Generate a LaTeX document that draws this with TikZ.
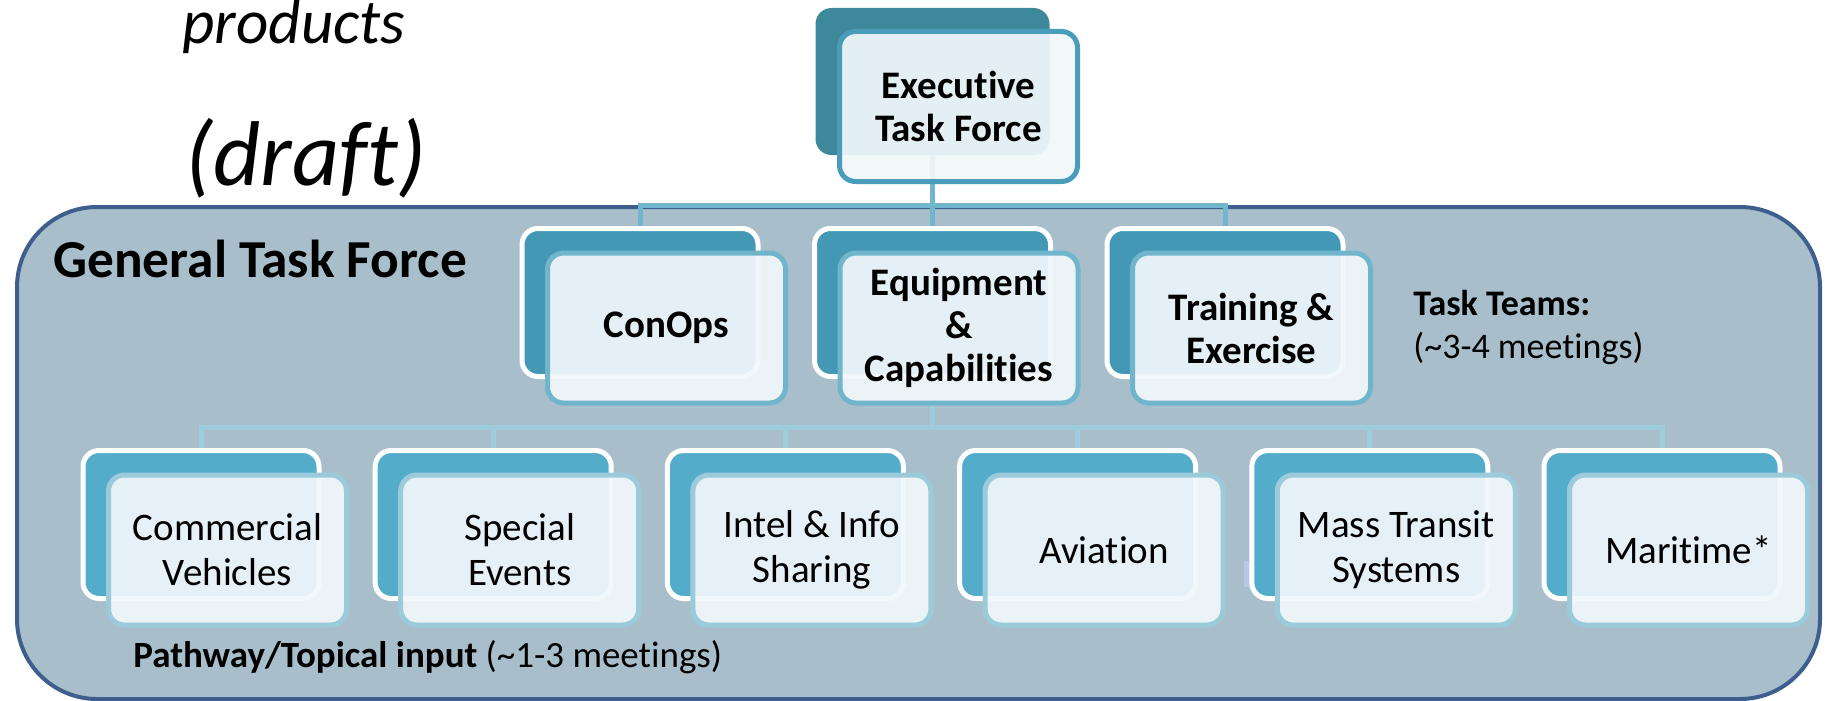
\documentclass[tikz,border=0pt]{standalone}
\usepackage{fontspec}
\setmainfont[Ligatures=NoCommon]{Carlito}
\usepackage{tikz}

\definecolor{gtfill}{HTML}{A8BFCB}
\definecolor{gtline}{HTML}{3E5F8D}
\definecolor{execback}{HTML}{3D889B}
\definecolor{midback}{HTML}{4399B5}
\definecolor{lowback}{HTML}{52ACCA}
\definecolor{execline}{HTML}{4A9DBA}
\definecolor{midline}{HTML}{70B5CC}
\definecolor{lowline}{HTML}{9BCBDB}
\definecolor{topconn}{HTML}{72B6CD}
\definecolor{lowconn}{HTML}{9DCCDC}
\definecolor{frontfill}{HTML}{F1F7FA}
\definecolor{stray}{HTML}{B8CAE2}

\begin{document}
\begin{tikzpicture}[x=0.5pt, y=-0.5pt,
                        backbox/.style={rectangle, rounded corners=8pt, minimum width=118pt, minimum height=74pt, draw=white, line width=2.5pt},
                        frontbox/.style={rectangle, rounded corners=8pt, minimum width=119pt, minimum height=75pt, line width=2.5pt, fill=frontfill, fill opacity=0.93, text opacity=1, align=center},
                        upper/.style={font=\bfseries\fontsize{19.5}{21.5}\selectfont},
                        lower/.style={font=\fontsize{19.5}{22.5}\selectfont},
                        topline/.style={draw=topconn, line width=2.5pt},
                        lowlink/.style={draw=lowconn, line width=2.5pt}]
                        \useasboundingbox (0,0) rectangle (1825,701);

                        % general task force frame
                        \draw[draw=gtline, fill=gtfill, line width=2pt, rounded corners=40pt] (17,207) rectangle (1820,699);
                        \fill[stray] (1244,561) rectangle (1253,587);

                        \node[fill=execback, rounded corners=8pt, minimum width=117pt, minimum height=73.5pt] (1b) at (932.5,81.5) {};
                        \node[fill=midback] (2b) at (640,302.5) [backbox] {};
                        \node[fill=midback] (3b) at (932.5,302.5) [backbox] {};
                        \node[fill=midback] (4b) at (1225,302.5) [backbox] {};

                        \node[fill=lowback] (5b) at (201,524.5) [backbox] {};
                        \node[fill=lowback] (6b) at (493.2,524.5) [backbox] {};
                        \node[fill=lowback] (7b) at (785.4,524.5) [backbox] {};
                        \node[fill=lowback] (8b) at (1077.6,524.5) [backbox] {};
                        \node[fill=lowback] (9b) at (1369.8,524.5) [backbox] {};
                        \node[fill=lowback] (10b) at (1662,524.5) [backbox] {};

                        \coordinate (h1) at (932.5,205);
                        \coordinate (h2) at (932.5,427);

                        \path	[topline]	(1b.south)	edge	(h1)
                        (h1)	edge	(3b.north);
                        \draw	[topline]	(2b.north) |- (h1) -| (4b.north);

                        \path	[lowlink]	(3b.south)	edge	(h2)
                        (6b.north)	edge	(6b.north |- h2)
                        (7b.north)	edge	(7b.north |- h2)
                        (8b.north)	edge	(8b.north |- h2)
                        (9b.north)	edge	(9b.north |- h2);
                        \draw	[lowlink]	(5b.north) |- (h2) -| (10b.north);

                        \node[draw=execline, upper] (1) at (958.5,106.5) [frontbox] {Executive\\Task Force};
                        \node[draw=midline, upper] (2) at (666.5,328) [frontbox] {ConOps};
                        \node[draw=midline, upper] (3) at (959,328) [frontbox] {Equipment\\\&\\Capabilities};
                        \node[draw=midline, upper] (4) at (1251.5,328) [frontbox] {Training \&\\Exercise};

                        \node[draw=lowline, lower] (5) at (227.5,550) [frontbox] {Commercial\\Vehicles};
                        \node[draw=lowline, lower] (6) at (519.7,550) [frontbox] {Special\\Events};
                        \node[draw=lowline, lower] (7) at (811.9,550) [frontbox] {Intel \& Info\\Sharing};
                        \node[draw=lowline, lower] (8) at (1104.1,550) [frontbox] {Aviation};
                        \node[draw=lowline, lower] (9) at (1396.3,550) [frontbox] {Mass Transit\\Systems};
                        \node[draw=lowline, lower] (10) at (1688.5,550) [frontbox] {Maritime*};

                        % titles and notes
                        \node[anchor=base west, inner sep=0, font=\itshape\fontsize{31.5}{36}\selectfont] (prod) at (182,44) {products};
                        \node[anchor=base west, inner sep=0, font=\itshape\fontsize{46}{52}\selectfont] (draft) at (185,185) {(draft)};
                        \node[anchor=base west, inner sep=0, font=\bfseries\fontsize{26.7}{31}\selectfont] (gtf) at (53,277) {General Task Force};
                        \node[anchor=base west, inner sep=0, font=\bfseries\fontsize{18}{21.5}\selectfont] (teams) at (1413,315) {Task Teams:};
                        \node[anchor=base west, inner sep=0, font=\fontsize{18}{21.5}\selectfont] (meet) at (1413,358) {(\textasciitilde3-4 meetings)};
                        \node[anchor=base west, inner sep=0, font=\fontsize{18.5}{22}\selectfont] (path) at (133,667) {\textbf{Pathway/Topical input} (\textasciitilde1-3 meetings)};
                    \end{tikzpicture}
\end{document}
